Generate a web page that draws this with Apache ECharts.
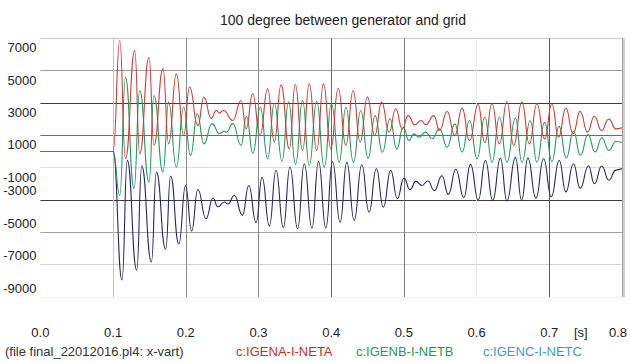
<!DOCTYPE html>
<html>
<head>
<meta charset="utf-8">
<script src="https://cdn.jsdelivr.net/npm/echarts@6/dist/echarts.min.js"></script>
<style>
html, body { margin: 0; padding: 0; background: #fff; }
#box { width: 630px; height: 363px; }
</style>
</head>
<body>
<div id="box"></div>
<script>
// values: time [s] of each turning point and current at it
var redT = [0, 0.1, 0.1092, 0.1170, 0.1298, 0.1366, 0.1494, 0.1562, 0.1686, 0.1764, 0.1870, 0.1970, 0.2052, 0.2166, 0.2248,
  0.2350, 0.2418, 0.2464, 0.2518, 0.2646, 0.2761, 0.2830, 0.2920, 0.3022, 0.3126, 0.3218, 0.3310, 0.3424, 0.3506, 0.3606,
  0.3698, 0.3801, 0.3894, 0.3996, 0.4096, 0.4202, 0.4302, 0.4398, 0.4498, 0.4599, 0.4695, 0.4796, 0.4888, 0.4978, 0.5060,
  0.5148, 0.5239, 0.5299, 0.5413, 0.5491, 0.5595, 0.5701, 0.5801, 0.5903, 0.6021, 0.6113, 0.6213, 0.6314, 0.6418, 0.6510,
  0.6624, 0.6726, 0.6830, 0.6936, 0.7036, 0.7128, 0.7228, 0.7327, 0.7425, 0.7525, 0.7621, 0.7717, 0.7818, 0.7916, 0.8];
var redV = [0, 0, 6860, -450, 6240, -140, 5830, 370, 5110, 470, 4800, 990, 3980, 1600, 3360,
  2050, 2530, 2390, 2530, 1920, 3150, 1400, 3560, 990, 3870, 580, 4120, 160, 4140, 60,
  4180, 60, 4180, 160, 3910, 370, 3770, 580, 3360, 990, 3050, 1190, 2640, 1400, 2220,
  1650, 1920, 1650, 2220, 1300, 2470, 990, 2680, 680, 2900, 540, 2950, 470, 3090, 370,
  3050, 470, 2950, 780, 2950, 890, 2680, 1100, 2480, 1200, 2180, 1300, 2000, 1400, 1470];

var greenT = [0, 0.1, 0.1092, 0.1170, 0.1288, 0.1366, 0.1494, 0.1562, 0.1686, 0.1764, 0.1870, 0.1970, 0.2066, 0.2158, 0.2248,
  0.2361, 0.2464, 0.2525, 0.2560, 0.2646, 0.2761, 0.2834, 0.2923, 0.3026, 0.3126, 0.3218, 0.3324, 0.3414, 0.3510, 0.3606,
  0.3698, 0.3801, 0.3904, 0.4004, 0.4110, 0.4202, 0.4306, 0.4407, 0.4508, 0.4604, 0.4704, 0.4809, 0.4901, 0.4992, 0.5070,
  0.5139, 0.5207, 0.5299, 0.5390, 0.5491, 0.5595, 0.5701, 0.5801, 0.5903, 0.6007, 0.6113, 0.6213, 0.6314, 0.6418, 0.6534,
  0.6624, 0.6739, 0.6830, 0.6936, 0.7036, 0.7134, 0.7234, 0.7333, 0.7429, 0.7532, 0.7631, 0.7722, 0.7820, 0.7916, 0.8];
var greenV = [0, 0, -2720, 4590, -2300, 3770, -1900, 3460, -1280, 3050, -970, 2740, -250, 2330, 470,
  1720, 1100, 1250, 1200, 1720, 380, 2180, -100, 2740, -450, 3000, -600, 3070, -800, 3150,
  -870, 3100, -970, 2950, -660, 2740, -660, 2530, -410, 2220, -40, 2020, 160, 1500, 680,
  1090, 890, 1200, 790, 1400, 270, 1710, -40, 1920, -450, 2120, -660, 2120, -660, 2060,
  -660, 1900, -660, 1800, -620, 1550, -400, 1250, -250, 1040, -30, 850, 60, 620, 560];

var blueT = [0, 0.1, 0.1123, 0.1195, 0.1325, 0.1394, 0.1527, 0.1595, 0.1723, 0.1791, 0.1904, 0.1997, 0.2080, 0.2166, 0.2278,
  0.2374, 0.2440, 0.2532, 0.2578, 0.2669, 0.2779, 0.2866, 0.2967, 0.3049, 0.3150, 0.3241, 0.3342, 0.3433, 0.3538, 0.3630,
  0.3735, 0.3826, 0.3927, 0.4018, 0.4123, 0.4215, 0.4316, 0.4421, 0.4521, 0.4621, 0.4717, 0.4819, 0.4909, 0.5001, 0.5084,
  0.5166, 0.5248, 0.5331, 0.5420, 0.5523, 0.5612, 0.5715, 0.5824, 0.5916, 0.6023, 0.6122, 0.6222, 0.6328, 0.6418, 0.6534,
  0.6620, 0.6706, 0.6816, 0.6922, 0.7027, 0.7137, 0.7228, 0.7333, 0.7425, 0.7539, 0.7621, 0.7722, 0.7820, 0.7916, 0.8];
var blueV = [0, 0, -7950, -550, -7340, -900, -6830, -1270, -6050, -1520, -5720, -2100, -4920, -2350, -4150,
  -2880, -3420, -3120, -3250, -2720, -3950, -2100, -4400, -1600, -4600, -1160, -4700, -960, -4780, -760,
  -4740, -600, -4740, -620, -4370, -660, -4260, -820, -3750, -1070, -3440, -1170, -2920, -1650, -2350,
  -1850, -2100, -1830, -2420, -1500, -2650, -1100, -2850, -800, -3000, -560, -3030, -420, -3060, -380,
  -3030, -410, -2880, -450, -2800, -560, -2500, -760, -2280, -900, -2000, -900, -1780, -1150, -1060];

var names = ['c:IGENA-I-NETA', 'c:IGENB-I-NETB', 'c:IGENC-I-NETC'];
var yTicks = [-9000, 7000, 2000];   // min, max, step
var xTicks = [0, 0.8, 0.1];

function pairs(t, v) {
  return t.map(function (x, i) { return [x, v[i]]; });
}

var font = '"Liberation Sans", Arial, sans-serif';
var chart = echarts.init(document.getElementById('box'), null, { renderer: 'svg' });

chart.setOption({
  animation: false,
  backgroundColor: '#fff',
  title: {
    text: '100 degree between generator and grid',
    left: 338,
    top: 8,
    textAlign: 'center',
    textStyle: { fontFamily: font, fontSize: 14, fontWeight: 'normal', color: '#222' }
  },
  grid: { left: 40.4, right: 6, top: 38.3, bottom: 66 },
  xAxis: {
    type: 'value',
    min: xTicks[0], max: xTicks[1], interval: xTicks[2],
    axisLine: { show: false },
    axisTick: { show: false },
    axisLabel: {
      margin: 29,
      fontFamily: font, fontSize: 13, color: '#222',
      formatter: function (v) {
        return v >= 0.8 ? '{r|' + v.toFixed(1) + '}' : v.toFixed(1);
      },
      rich: { r: { fontFamily: font, fontSize: 13, color: '#222', padding: [0, 8, 0, 0] } }
    },
    splitLine: {
      show: true,
      lineStyle: {
        width: 1,
        color: ['rgba(0,0,0,0)', '#c4c4c4', '#8c8c8c', '#858585', '#6a6a6a', '#7a7a7a', '#ececec', '#5a5a5a', '#a0a0a0']
      }
    }
  },
  yAxis: {
    type: 'value',
    min: yTicks[0], max: yTicks[1], interval: yTicks[2],
    axisLine: { show: false },
    axisTick: { show: false },
    axisLabel: {
      margin: 4,
      fontFamily: font, fontSize: 13, color: '#222',
      formatter: function (v) {
        return v >= -1000 ? '{d|' + v + '}' : '{u|' + v + '}';
      },
      rich: {
        d: { fontFamily: font, fontSize: 13, color: '#222', padding: [19, 0, 0, 0] },
        u: { fontFamily: font, fontSize: 13, color: '#222', padding: [0, 0, 18, 0] }
      }
    },
    splitLine: {
      show: true,
      lineStyle: {
        width: 1,
        color: ['#f2f2f2', '#d2d2d2', '#a2a2a2', '#3c3c3c', '#dedede', '#6c6c6c', '#3c3c3c', '#9a9a9a', '#cccccc']
      }
    }
  },
  graphic: [
    { type: 'line', shape: { x1: 624, y1: 38.3, x2: 624, y2: 297 }, style: { stroke: '#a0a0a0', lineWidth: 1 }, z: 1 },
    { type: 'text', left: 574, top: 326, style: { text: '[s]', font: '13px ' + font, fill: '#222' } },
    { type: 'text', left: 5, top: 345, style: { text: '(file final_22012016.pl4: x-vart)', font: '13px ' + font, fill: '#333' } },
    { type: 'text', left: 236, top: 345, style: { text: names[0], font: '13px ' + font, fill: '#cc2a2a' } },
    { type: 'text', left: 356, top: 345, style: { text: names[1], font: '13px ' + font, fill: '#1f9a52' } },
    { type: 'text', left: 483, top: 345, style: { text: names[2], font: '13px ' + font, fill: '#3a98d0' } }
  ],
  series: [
    {
      name: names[2], type: 'line', data: pairs(blueT, blueV),
      showSymbol: false, smooth: 0.5, smoothMonotone: 'x',
      lineStyle: { color: '#25256e', width: 1.1 }, itemStyle: { color: '#25256e' }
    },
    {
      name: names[1], type: 'line', data: pairs(greenT, greenV),
      showSymbol: false, smooth: 0.5, smoothMonotone: 'x',
      lineStyle: { color: '#1f9a5c', width: 1.1 }, itemStyle: { color: '#1f9a5c' }
    },
    {
      name: names[0], type: 'line', data: pairs(redT, redV),
      showSymbol: false, smooth: 0.5, smoothMonotone: 'x',
      lineStyle: { color: '#d63a34', width: 1.1 }, itemStyle: { color: '#d63a34' }
    }
  ]
});
</script>
</body>
</html>
